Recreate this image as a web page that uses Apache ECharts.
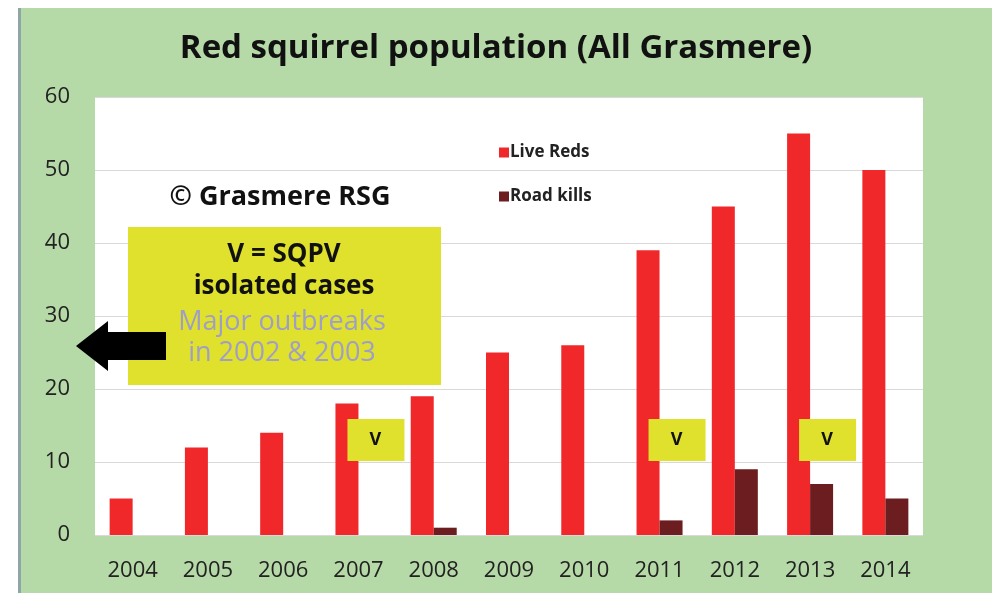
<!DOCTYPE html>
<html>
<head>
<meta charset="utf-8">
<script src="https://cdn.jsdelivr.net/npm/echarts@6/dist/echarts.min.js"></script>
<style>
html,body{margin:0;padding:0;background:#ffffff;}
#frame{position:absolute;left:18px;top:8px;width:974px;height:585px;background:#b5d9a7;border-left:3px solid #8fa6a8;box-sizing:border-box;}
#chart{position:absolute;left:0;top:0;width:992px;height:593px;}
</style>
</head>
<body>
<div id="frame"></div>
<div id="chart"></div>
<script>
const years = ['2004','2005','2006','2007','2008','2009','2010','2011','2012','2013','2014'];
const liveReds = [5, 12, 14, 18, 19, 25, 26, 39, 45, 55, 50];
const roadKills = [0, 0, 0, 0, 1, 0, 0, 2, 9, 7, 5];
const yTicks = [0, 10, 20, 30, 40, 50, 60];
const vYears = ['2007', '2011', '2013'];

const chart = echarts.init(document.getElementById('chart'), null, {renderer: 'canvas'});
const font = 'Open Sans';

const option = {
  backgroundColor: 'transparent',
  animation: false,
  title: {
    text: 'Red squirrel population (All Grasmere)',
    left: 'center',
    top: 27,
    textStyle: {fontFamily: font, fontWeight: 'bold', fontSize: 33, color: '#111'}
  },
  legend: {
    orient: 'vertical',
    left: 494,
    top: 139,
    itemGap: 27,
    itemWidth: 10,
    itemHeight: 10,
    icon: 'rect',
    textStyle: {fontFamily: font, fontWeight: 'bold', fontSize: 17, color: '#222', padding: [0,0,0,-4]},
    data: ['Live Reds', 'Road kills']
  },
  grid: {left: 95, right: 69, top: 97, bottom: 58, containLabel: false,
         show: true, backgroundColor: '#ffffff', borderWidth: 0},
  xAxis: {
    type: 'category',
    data: years,
    axisLine: {show: false},
    axisTick: {show: false},
    axisLabel: {fontFamily: font, fontSize: 22, color: '#222', margin: 25}
  },
  yAxis: {
    type: 'value',
    min: yTicks[0],
    max: yTicks[yTicks.length - 1],
    interval: 10,
    axisLine: {show: false},
    axisTick: {show: false},
    axisLabel: {fontFamily: font, fontSize: 22, color: '#222', margin: 25},
    splitLine: {lineStyle: {color: '#d9d9d9', width: 1}}
  },
  series: [
    {name: 'Live Reds', type: 'bar', data: liveReds, barWidth: 23, barGap: '0%',
     itemStyle: {color: '#f0282a'}},
    {name: 'Road kills', type: 'bar', data: roadKills, barWidth: 23, barGap: '0%',
     itemStyle: {color: '#6b1d1f'}}
  ]
};
chart.setOption(option);

// annotations
const g = [];
g.push({type: 'text', x: 280, y: 197, z: 100,
  style: {text: '© Grasmere RSG', font: 'bold 27px "Open Sans"', fill: '#111', align: 'center', verticalAlign: 'middle'}});
g.push({type: 'rect', z: 100, shape: {x: 128, y: 227, width: 313, height: 158}, style: {fill: '#e0e12c'}});
g.push({type: 'text', z: 101, x: 284, y: 255, style: {text: 'V = SQPV', font: 'bold 26px "Open Sans"', fill: '#111', align: 'center', verticalAlign: 'middle'}});
g.push({type: 'text', z: 101, x: 284, y: 287, style: {text: 'isolated cases', font: 'bold 26px "Open Sans"', fill: '#111', align: 'center', verticalAlign: 'middle'}});
g.push({type: 'text', z: 101, x: 282, y: 322, style: {text: 'Major outbreaks', font: '27px "Open Sans"', fill: '#9e9ec9', align: 'center', verticalAlign: 'middle'}});
g.push({type: 'text', z: 101, x: 282, y: 353, style: {text: 'in 2002 & 2003', font: '27px "Open Sans"', fill: '#9e9ec9', align: 'center', verticalAlign: 'middle'}});
g.push({type: 'polygon', z: 102, shape: {points: [[76,346],[108,321],[108,332],[166,332],[166,360],[108,360],[108,371]]}, style: {fill: '#000'}});
vYears.forEach(function(yr){
  const idx = years.indexOf(yr);
  const px = chart.convertToPixel({xAxisIndex: 0}, idx);
  const py = chart.convertToPixel({yAxisIndex: 0}, 10);
  g.push({type: 'rect', z: 100, shape: {x: px - 11, y: py - 43, width: 57, height: 42}, style: {fill: '#e0e12c'}});
  g.push({type: 'text', z: 101, x: px + 17, y: py - 22, style: {text: 'V', font: 'bold 18px "Open Sans"', fill: '#111', align: 'center', verticalAlign: 'middle'}});
});
chart.setOption({graphic: g});
</script>
</body>
</html>
